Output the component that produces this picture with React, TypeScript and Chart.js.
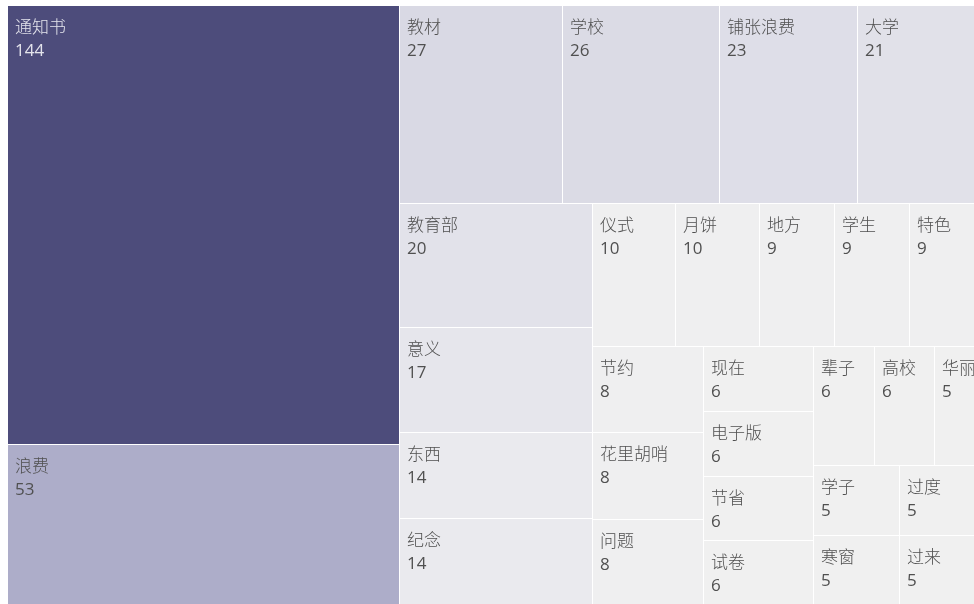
import React, { useEffect, useRef } from 'react';
import { Chart, DatasetController, Element, registerables } from 'chart.js';

// ---- data ----
const categories: string[] = [
  '通知书', '浪费', '教材', '学校', '铺张浪费', '大学', '教育部', '意义', '东西', '纪念',
  '仪式', '月饼', '地方', '学生', '特色', '节约', '花里胡哨', '问题',
  '现在', '电子版', '节省', '试卷', '辈子', '高校',
  '华丽', '学子', '寒窗', '过度', '过来',
];
const counts: number[] = [
  144, 53, 27, 26, 23, 21, 20, 17, 14, 14,
  10, 10, 9, 9, 9, 8, 8, 8,
  6, 6, 6, 6, 6, 6,
  5, 5, 5, 5, 5,
];

// ---- styling (colour ramp) ----
const RAMP_T = [0, 0.04, 0.11, 0.16, 0.345, 1];
const RAMP_RGB: [number, number, number][] = [
  [240, 240, 240],
  [239, 239, 240],
  [226, 226, 234],
  [217, 217, 228],
  [173, 173, 201],
  [77, 76, 123],
];
const W = 977;
const H = 600;

function colorFor(v: number, min: number, max: number): string {
  const t = (v - min) / (max - min || 1);
  for (let i = 1; i < RAMP_T.length; i++) {
    if (t <= RAMP_T[i]) {
      const f = (t - RAMP_T[i - 1]) / (RAMP_T[i] - RAMP_T[i - 1]);
      const a = RAMP_RGB[i - 1], b = RAMP_RGB[i];
      const c = a.map((x, k) => Math.round(x + (b[k] - x) * f));
      return `rgb(${c[0]},${c[1]},${c[2]})`;
    }
  }
  const c = RAMP_RGB[RAMP_RGB.length - 1];
  return `rgb(${c[0]},${c[1]},${c[2]})`;
}

type Cell = { label: string; v: number; x0: number; y0: number; x1: number; y1: number; x: number; y: number };

// d3-style squarified layout (golden ratio)
function squarify(labels: string[], values: number[], X0: number, Y0: number, X1: number, Y1: number): Cell[] {
  const ratio = (1 + Math.sqrt(5)) / 2;
  const nodes = labels.map((l, i) => ({ label: l, v: values[i], x0: 0, y0: 0, x1: 0, y1: 0 }));
  let x0 = X0, y0 = Y0;
  const x1 = X1, y1 = Y1;
  let value = values.reduce((a, b) => a + b, 0);
  const n = nodes.length;
  let i0 = 0, i1 = 0;
  while (i0 < n) {
    const dx = x1 - x0, dy = y1 - y0;
    let sumValue = nodes[i1++].v;
    let minValue = sumValue, maxValue = sumValue;
    const alpha = Math.max(dy / dx, dx / dy) / (value * ratio);
    let beta = sumValue * sumValue * alpha;
    let minRatio = Math.max(maxValue / beta, beta / minValue);
    for (; i1 < n; ++i1) {
      const nv = nodes[i1].v;
      sumValue += nv;
      if (nv < minValue) minValue = nv;
      if (nv > maxValue) maxValue = nv;
      beta = sumValue * sumValue * alpha;
      const newRatio = Math.max(maxValue / beta, beta / minValue);
      if (newRatio > minRatio) { sumValue -= nv; break; }
      minRatio = newRatio;
    }
    const row = nodes.slice(i0, i1);
    if (dx < dy) {
      const ny = value ? y0 + dy * sumValue / value : y1;
      let cx = x0;
      const k = (x1 - x0) / sumValue;
      row.forEach((nd) => { nd.y0 = y0; nd.y1 = ny; nd.x0 = cx; cx += nd.v * k; nd.x1 = cx; });
      y0 = ny;
    } else {
      const nx = value ? x0 + dx * sumValue / value : x1;
      let cy = y0;
      const k = (y1 - y0) / sumValue;
      row.forEach((nd) => { nd.x0 = x0; nd.x1 = nx; nd.y0 = cy; cy += nd.v * k; nd.y1 = cy; });
      x0 = nx;
    }
    value -= sumValue;
    i0 = i1;
  }
  return nodes.map((nd) => ({ ...nd, x: (nd.x0 + nd.x1) / 2, y: (nd.y0 + nd.y1) / 2 }));
}

class TreemapCell extends Element {
  static id = 'treemapCell';
  static defaults = {};
  px0 = 0; py0 = 0; px1 = 0; py1 = 0;
  label = ''; value = 0; fill = '#eee'; textColor = '#444';
  draw(ctx: CanvasRenderingContext2D) {
    const l = Math.round(this.px0), r = Math.round(this.px1);
    const t = Math.round(this.py0), b = Math.round(this.py1);
    ctx.save();
    ctx.fillStyle = this.fill;
    ctx.fillRect(l, t, r - l - 1, b - t - 1);
    ctx.beginPath();
    ctx.rect(l, t, r - l - 1, b - t - 1);
    ctx.clip();
    ctx.fillStyle = this.textColor;
    ctx.textAlign = 'left';
    ctx.textBaseline = 'alphabetic';
    ctx.font = '300 17px "Noto Sans CJK SC", sans-serif';
    ctx.fillText(this.label, l + 7, t + 27);
    ctx.font = '17px "Open Sans", "DejaVu Sans", sans-serif';
    ctx.fillText(String(this.value), l + 7, t + 50);
    ctx.restore();
  }
}

class TreemapController extends DatasetController {
  static id = 'treemap';
  static defaults = { dataElementType: 'treemapCell', datasetElementType: false };
  static overrides = {};
  update(mode: any) {
    const meta = (this as any)._cachedMeta;
    this.updateElements(meta.data, 0, meta.data.length, mode);
  }
  updateElements(elems: any[], start: number, count: number, _mode: any) {
    const meta = (this as any)._cachedMeta;
    const xs = meta.xScale, ys = meta.yScale;
    const ds: any = this.getDataset();
    const vals = ds.data.map((d: any) => d.v);
    const mn = Math.min(...vals), mx = Math.max(...vals);
    for (let i = start; i < start + count; i++) {
      const d = ds.data[i];
      const fill = colorFor(d.v, mn, mx);
      Object.assign(elems[i], {
        x: xs.getPixelForValue(d.x),
        y: ys.getPixelForValue(d.y),
        px0: xs.getPixelForValue(d.x0),
        px1: xs.getPixelForValue(d.x1),
        py0: ys.getPixelForValue(d.y0),
        py1: ys.getPixelForValue(d.y1),
        label: d.label,
        value: d.v,
        fill,
        textColor: (d.v - mn) / (mx - mn) > 0.6 ? '#e4e4ec' : '#505050',
      });
    }
  }
  draw() {
    const meta = (this as any)._cachedMeta;
    const ctx = this.chart.ctx;
    meta.data.forEach((el: any) => el.draw(ctx));
  }
}

Chart.register(...registerables, TreemapController as any, TreemapCell as any);

export default function App() {
  const ref = useRef<HTMLCanvasElement | null>(null);
  useEffect(() => {
    if (!ref.current) return;
    const cells = squarify(categories, counts, 0, 0, W, H);
    const chart = new Chart(ref.current, {
      type: 'scatter',
      data: {
        datasets: [
          { type: 'treemap' as any, label: 'count', data: cells as any, parsing: false } as any,
        ],
      },
      options: {
        animation: false,
        responsive: false,
        events: [],
        layout: { padding: 0 },
        plugins: { legend: { display: false }, tooltip: { enabled: false } },
        scales: {
          x: { type: 'linear', display: false, min: 0, max: W },
          y: { type: 'linear', display: false, min: 0, max: H, reverse: true },
        },
      } as any,
    });
    return () => chart.destroy();
  }, []);
  return (
    <div style={{ position: 'fixed', inset: 0, overflow: 'hidden', background: '#fff' }}>
      <canvas
        ref={ref}
        width={W}
        height={H}
        style={{ position: 'absolute', left: 8, top: 6, width: W, height: H }}
      />
    </div>
  );
}
